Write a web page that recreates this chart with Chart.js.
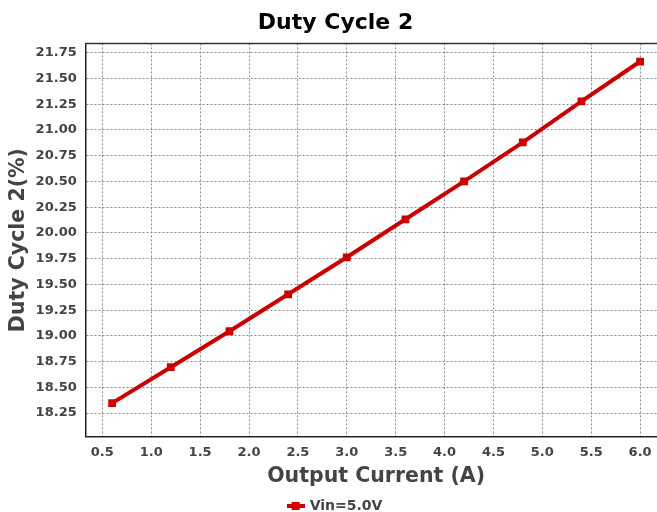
<!DOCTYPE html>
<html>
<head>
<meta charset="utf-8">
<script src="https://cdn.jsdelivr.net/npm/chart.js@4.4.1/dist/chart.umd.min.js"></script>
<style>
  html, body { margin: 0; padding: 0; background: #fff; overflow: hidden; }
  #chart { display: block; }
</style>
</head>
<body>
<canvas id="chart" width="672" height="512"></canvas>
<script>
const outputCurrent = [0.6, 1.2, 1.8, 2.4, 3.0, 3.6, 4.2, 4.8, 5.4, 6.0];
const dutyCycle2 = [18.347, 18.696, 19.045, 19.404, 19.763, 20.132, 20.50, 20.878, 21.276, 21.664];
const xTicks = [0.5, 1.0, 1.5, 2.0, 2.5, 3.0, 3.5, 4.0, 4.5, 5.0, 5.5, 6.0];
const yTicks = [18.25, 18.5, 18.75, 19.0, 19.25, 19.5, 19.75, 20.0, 20.25, 20.5, 20.75, 21.0, 21.25, 21.5, 21.75];
const seriesLabel = 'Vin=5.0V';

const red = '#cc0000';
const textColor = '#444444';
const fontFamily = '"DejaVu Sans", sans-serif';

// legend marker: a short line with a square in the middle
const marker = document.createElement('canvas');
marker.width = 18;
marker.height = 10;
const mctx = marker.getContext('2d');
mctx.fillStyle = red;
mctx.fillRect(0, 3, 18, 4);
mctx.fillRect(5, 1, 8, 8);

const topBorder = {
  id: 'topBorder',
  afterDraw(chart) {
    const { ctx, chartArea } = chart;
    ctx.save();
    ctx.strokeStyle = '#333';
    ctx.lineWidth = 1.5;
    ctx.beginPath();
    ctx.moveTo(chartArea.left, chartArea.top);
    ctx.lineTo(chartArea.right, chartArea.top);
    ctx.stroke();
    ctx.restore();
  }
};

new Chart(document.getElementById('chart'), {
  type: 'line',
  data: {
    datasets: [{
      label: seriesLabel,
      data: outputCurrent.map((x, i) => ({ x: x, y: dutyCycle2[i] })),
      borderColor: red,
      backgroundColor: red,
      borderWidth: 4,
      pointStyle: 'rect',
      pointRadius: 5.5,
      pointBorderWidth: 0,
      tension: 0
    }]
  },
  options: {
    responsive: false,
    animation: false,
    layout: { padding: { left: 0, right: 1, top: 0, bottom: -11 } },
    plugins: {
      title: {
        display: true,
        text: 'Duty Cycle 2',
        color: '#000',
        font: { family: fontFamily, size: 22, weight: 'bold' },
        padding: { top: 10, bottom: 7 }
      },
      legend: {
        position: 'bottom',
        labels: {
          usePointStyle: true,
          pointStyle: marker,
          color: textColor,
          font: { family: fontFamily, size: 14, weight: 'bold' },
          padding: 2
        }
      },
      tooltip: { enabled: false }
    },
    scales: {
      x: {
        type: 'linear',
        min: 0.33,
        max: 6.27,
        afterBuildTicks: (axis) => { axis.ticks = xTicks.map(v => ({ value: v })); },
        ticks: {
          color: textColor,
          font: { family: fontFamily, size: 13, weight: 'bold' },
          padding: 8,
          callback: (v) => v.toFixed(1)
        },
        grid: { color: '#888', drawTicks: false },
        border: { color: '#222', width: 1.5, dash: [2, 2] },
        title: {
          display: true,
          text: 'Output Current (A)',
          color: textColor,
          font: { family: fontFamily, size: 20.5, weight: 'bold' },
          padding: { top: -4, bottom: 8 }
        }
      },
      y: {
        min: 18.02,
        max: 21.84,
        afterBuildTicks: (axis) => { axis.ticks = yTicks.map(v => ({ value: v })); },
        ticks: {
          color: textColor,
          font: { family: fontFamily, size: 13, weight: 'bold' },
          padding: 9,
          callback: (v) => v.toFixed(2)
        },
        grid: { color: '#888', drawTicks: false },
        border: { color: '#222', width: 1.5, dash: [2, 2] },
        title: {
          display: true,
          text: 'Duty Cycle 2(%)',
          color: textColor,
          font: { family: fontFamily, size: 20.5, weight: 'bold' },
          padding: { top: 6, bottom: -4 }
        }
      }
    }
  },
  plugins: [topBorder]
});
</script>
</body>
</html>
